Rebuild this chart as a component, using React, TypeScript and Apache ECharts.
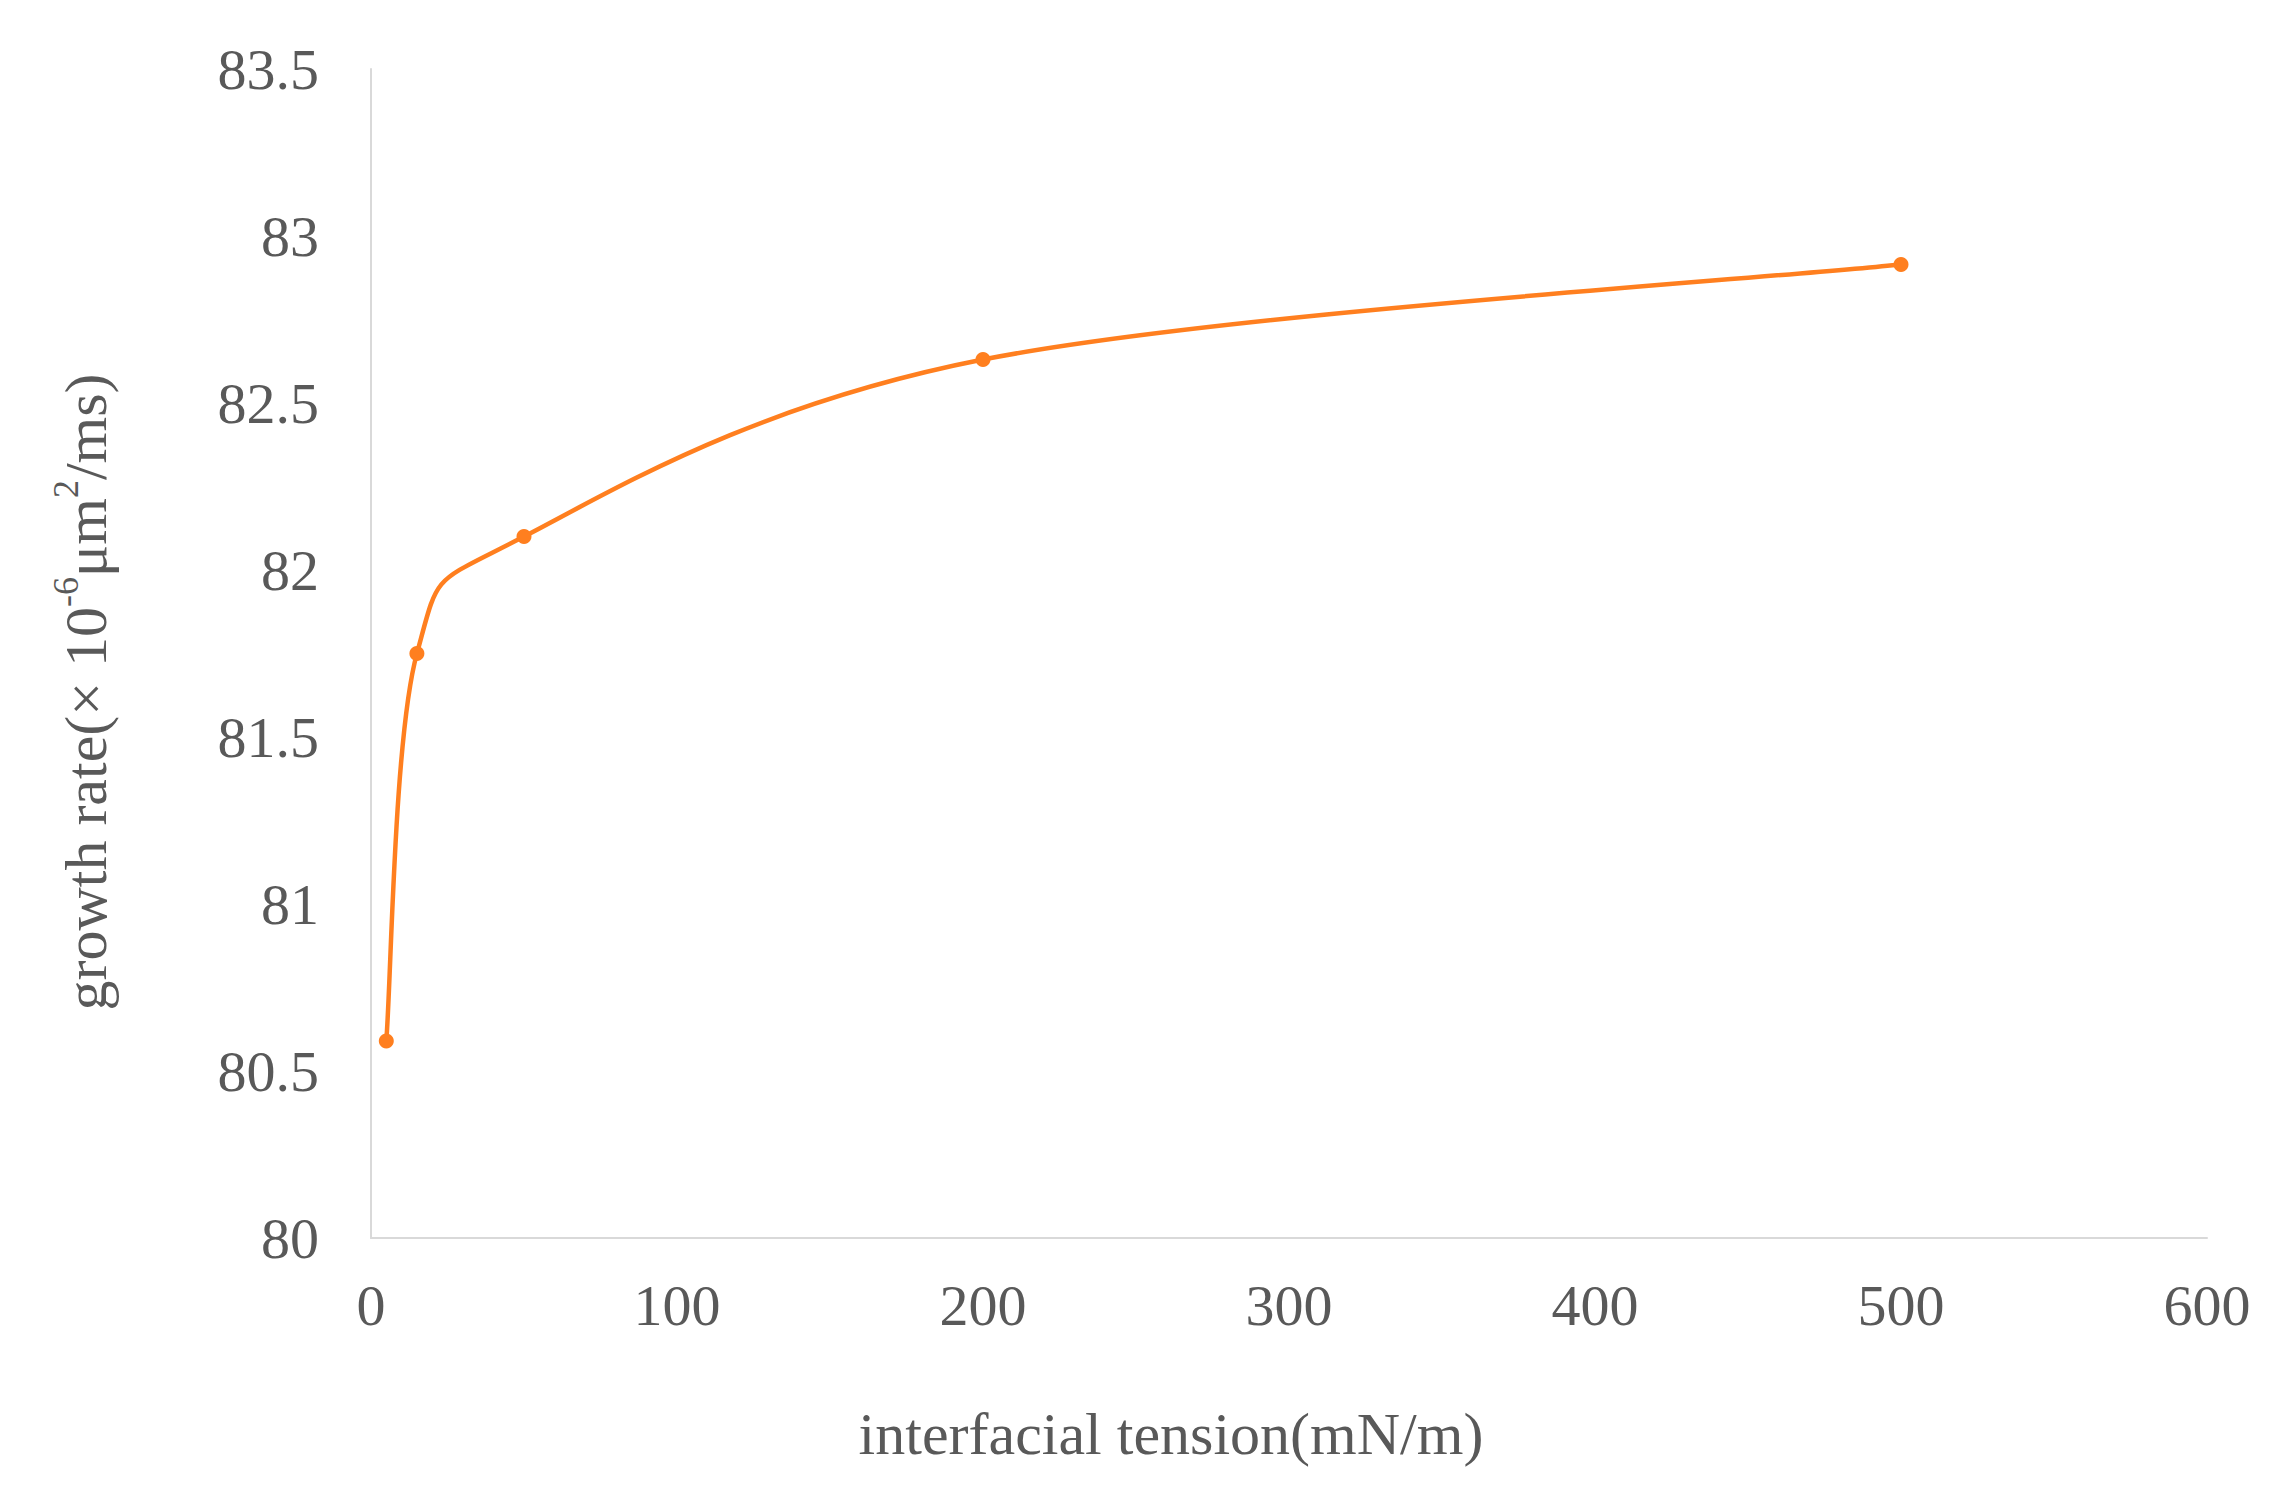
import React, { useEffect, useRef } from 'react';
import * as echarts from 'echarts';

// interfacial tension (mN/m) vs growth rate (x10^-6 um^2/ms)
const tension = [5, 15, 50, 200, 500];
const growthRate = [80.59, 81.75, 82.1, 82.63, 82.915];

const X_MIN = 0;
const X_MAX = 600;
const X_STEP = 100;
const Y_MIN = 80;
const Y_MAX = 83.5;
const Y_STEP = 0.5;

const xTitle = 'interfacial tension(mN/m)';
const yTitleParts = ['growth rate(× 10', '-6', 'μm', '2', '/ms)'];

const FONT = '"Liberation Serif", "Times New Roman", serif';
const TEXT = '#595959';
const AXIS = '#D9D9D9';
const ORANGE = '#FF7F1F';

// Excel-style smoothed line: cubic bezier, tangents (P[i+1] - P[i-1]) / 6
function smoothPath(pts: number[][]): string {
  const n = pts.length;
  let d = `M${pts[0][0]},${pts[0][1]}`;
  const tan = (i: number) => {
    const a = pts[Math.max(0, i - 1)];
    const b = pts[Math.min(n - 1, i + 1)];
    return [(b[0] - a[0]) / 6, (b[1] - a[1]) / 6];
  };
  for (let i = 0; i < n - 1; i++) {
    const t0 = tan(i);
    const t1 = tan(i + 1);
    const p0 = pts[i];
    const p1 = pts[i + 1];
    d += ` C${p0[0] + t0[0]},${p0[1] + t0[1]} ${p1[0] - t1[0]},${p1[1] - t1[1]} ${p1[0]},${p1[1]}`;
  }
  return d;
}

export default function App() {
  const ref = useRef<HTMLDivElement | null>(null);

  useEffect(() => {
    if (!ref.current) return;
    const inst = echarts.init(ref.current, undefined, { renderer: 'svg' });
    const yTitle =
      `{a|${yTitleParts[0]}}{s|${yTitleParts[1]}}{a|${yTitleParts[2]}}` +
      `{s|${yTitleParts[3]}}{a|${yTitleParts[4]}}`;
    const points = tension.map((t, i) => [t, growthRate[i]]);

    inst.setOption({
      animation: false,
      backgroundColor: '#fff',
      textStyle: { fontFamily: FONT },
      grid: { left: 371, right: 75, top: 69, bottom: 256, containLabel: false },
      xAxis: {
        type: 'value',
        min: X_MIN,
        max: X_MAX,
        interval: X_STEP,
        axisLine: { show: true, lineStyle: { color: AXIS, width: 2 } },
        axisTick: { show: false },
        splitLine: { show: false },
        axisLabel: { color: TEXT, fontSize: 58, fontFamily: FONT, margin: 38 },
      },
      yAxis: {
        type: 'value',
        min: Y_MIN,
        max: Y_MAX,
        interval: Y_STEP,
        axisLine: { show: true, lineStyle: { color: AXIS, width: 2 } },
        axisTick: { show: false },
        splitLine: { show: false },
        axisLabel: { color: TEXT, fontSize: 58, fontFamily: FONT, margin: 52 },
      },
      graphic: [
        {
          type: 'text',
          x: 1171,
          y: 1434,
          style: {
            text: xTitle,
            fill: TEXT,
            font: `60px ${FONT}`,
            align: 'center',
            verticalAlign: 'middle',
          },
        },
        {
          type: 'text',
          x: 86,
          y: 692,
          rotation: Math.PI / 2,
          style: {
            text: yTitle,
            align: 'center',
            verticalAlign: 'middle',
            rich: {
              a: { fontSize: 60, fontFamily: FONT, fill: TEXT, color: TEXT, lineHeight: 76 },
              s: { fontSize: 36, fontFamily: FONT, fill: TEXT, color: TEXT, lineHeight: 38, verticalAlign: 'top' },
            },
          },
        },
      ],
      series: [
        {
          type: 'custom',
          data: points,
          z: 2,
          renderItem: (params: any, api: any) => {
            if (params.dataIndex !== 0) return null;
            const px = points.map((p) => api.coord(p));
            return {
              type: 'path',
              shape: { pathData: smoothPath(px) },
              style: { stroke: ORANGE, lineWidth: 4.5, fill: 'none' },
            };
          },
        },
        {
          type: 'scatter',
          data: points,
          z: 3,
          symbol: 'circle',
          symbolSize: 15,
          itemStyle: { color: ORANGE, opacity: 1 },
        },
      ],
    });

    return () => inst.dispose();
  }, []);

  return (
    <div
      ref={ref}
      style={{ position: 'fixed', left: 0, top: 0, width: 2282, height: 1494, background: '#fff' }}
    />
  );
}
